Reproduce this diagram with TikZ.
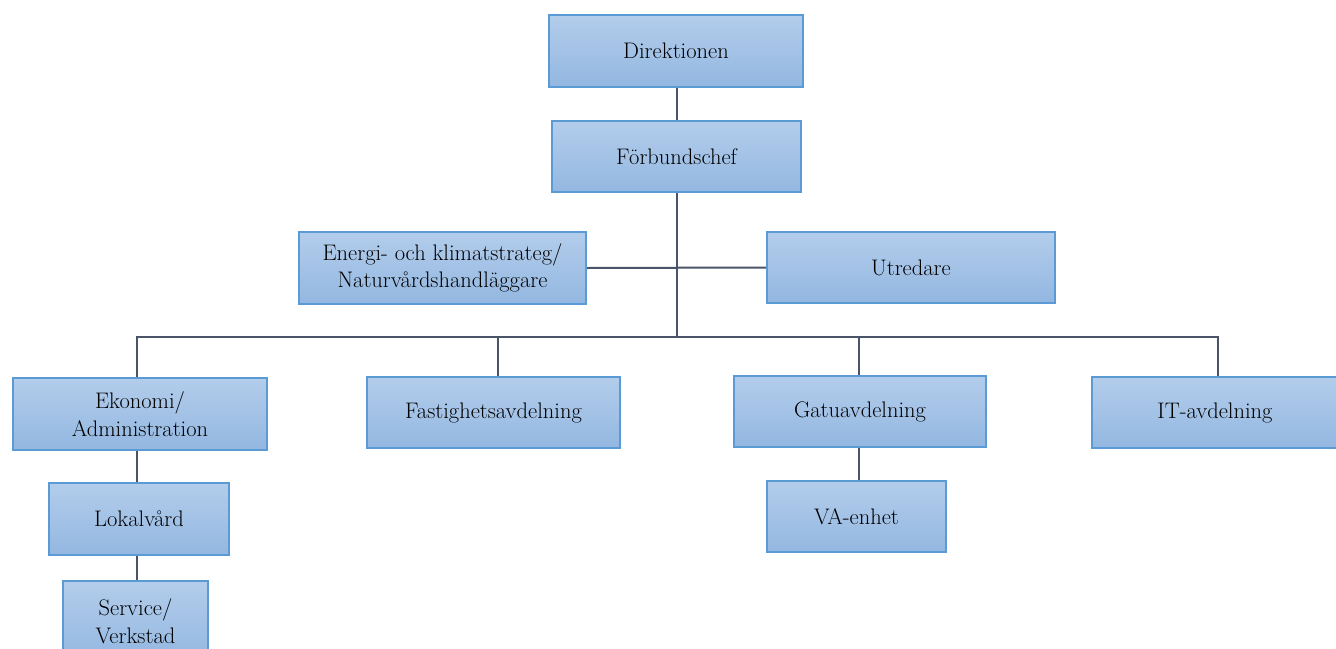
\documentclass[tikz,border=0pt]{standalone}
\usepackage{fontspec}
\begin{document}
\begin{tikzpicture}[x=1pt,y=-1pt,
  box/.style={draw=boxedge,line width=2.2pt,top color=boxtop,bottom color=boxbot,
    inner sep=0pt,align=center,font=\fontsize{22.5}{27.5}\selectfont,text=black},
  conn/.style={draw=linecol,line width=2pt}]
\definecolor{boxedge}{HTML}{5B9BD5}
\definecolor{boxtop}{HTML}{B3CDEB}
\definecolor{boxbot}{HTML}{93B7E1}
\definecolor{linecol}{HTML}{4A5468}
\useasboundingbox (0,0) rectangle (1336,648);
\clip (0,0) rectangle (1336,648);
\node[box,minimum width=254,minimum height=72] (dir) at (676,51) {Direktionen};
\node[box,minimum width=249,minimum height=71] (forb) at (676.5,156.5) {Förbundschef};
\node[box,minimum width=287,minimum height=72] (energi) at (442.5,268) {Energi- och klimatstrateg/\\Naturvårdshandläggare};
\node[box,minimum width=288,minimum height=71] (utred) at (911,267.5) {Utredare};
\node[box,minimum width=254,minimum height=72] (eko) at (140,414) {Ekonomi/\\Administration};
\node[box,minimum width=253,minimum height=71] (fast) at (493.5,412.5) {Fastighetsavdelning};
\node[box,minimum width=252,minimum height=71] (gatu) at (860,411.5) {Gatuavdelning};
\node[box,minimum width=246,minimum height=71] (it) at (1215,412.5) {IT-avdelning};
\node[box,minimum width=180,minimum height=72] (lokal) at (139,519) {Lokalvård};
\node[box,minimum width=145,minimum height=80] (serv) at (135.5,621) {Service/\\Verkstad};
\node[box,minimum width=179,minimum height=71] (va) at (856.5,516.5) {VA-enhet};
\coordinate (bus) at (677,337);
\draw[conn] ([xshift=1pt]dir.south) -- ([xshift=0.5pt]forb.north);
\draw[conn] ([xshift=0.5pt]forb.south) -- (bus);
\draw[conn] (energi.east) -- (utred.west);
\draw[conn] ([xshift=-3pt]eko.north) |- (bus);
\draw[conn] ([xshift=4.5pt]fast.north) |- (bus);
\draw[conn] ([xshift=-1pt]gatu.north) |- (bus);
\draw[conn] ([xshift=3pt]it.north) |- (bus);
\draw[conn] ([xshift=-3pt]eko.south) -- ([xshift=-2pt]lokal.north);
\draw[conn] ([xshift=-2pt]lokal.south) -- ([xshift=1.5pt]serv.north);
\draw[conn] ([xshift=-1pt]gatu.south) -- ([xshift=2.5pt]va.north);
\end{tikzpicture}
\end{document}
